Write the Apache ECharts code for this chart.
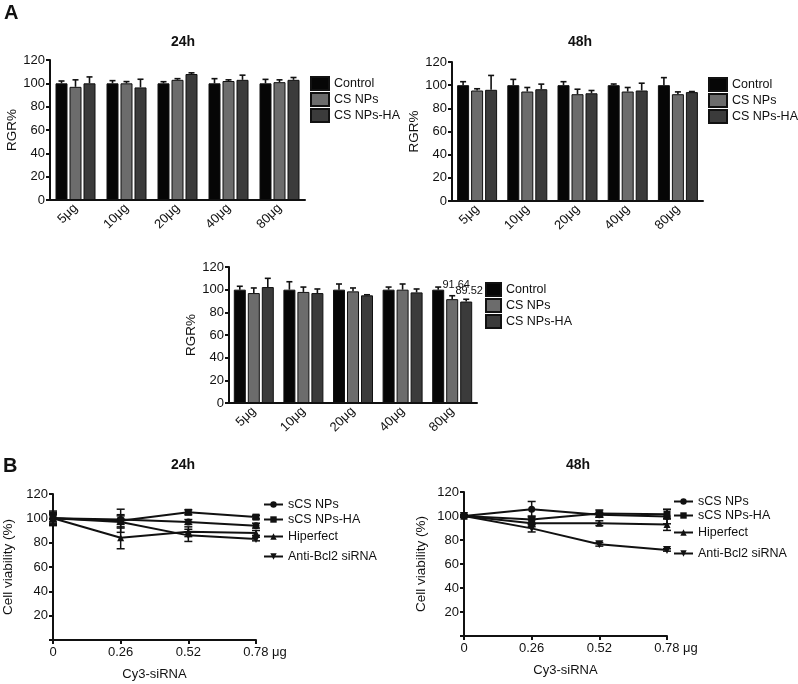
<!DOCTYPE html>
<html>
<head>
<meta charset="utf-8">
<script src="https://cdn.jsdelivr.net/npm/echarts@6/dist/echarts.min.js"></script>
<style>
body{margin:0;background:#fff}
#main{width:798px;height:684px}
</style>
</head>
<body>
<div id="main"></div>
<script>
var FONT = 'Liberation Sans, Arial, sans-serif';

// bar panels (A)
var doses = ['5μg', '10μg', '20μg', '40μg', '80μg'];
var barNames = ['Control', 'CS NPs', 'CS NPs-HA'];
var barColors = ['#060606', '#6c6c6c', '#3b3b3b'];

var a24Control = [100, 100, 100, 100, 100];
var a24CSNPs = [97, 100, 103, 102, 101];
var a24HA = [100, 96.5, 108, 103, 103];
var a24ControlErr = [2, 2.3, 1.4, 4, 3.4];
var a24CSNPsErr = [6, 1.5, 1, 1, 2];
var a24HAErr = [5.5, 7, 1, 4, 2];

var a48Control = [100, 100, 100, 100, 100];
var a48CSNPs = [95.4, 94.5, 92.2, 94.5, 92.2];
var a48HA = [96, 96.5, 93, 95.4, 94];
var a48ControlErr = [3, 5, 3, 1, 6.5];
var a48CSNPsErr = [1.5, 3.5, 4.3, 3.5, 2];
var a48HAErr = [12.4, 4.4, 2.4, 6.3, 0.5];

var a3Control = [100, 100, 100, 100, 100];
var a3CSNPs = [97, 98, 98.5, 100, 91.64];
var a3HA = [102.3, 97, 95, 97.6, 89.52];
var a3ControlErr = [3, 7, 5, 2.3, 2.3];
var a3CSNPsErr = [4.5, 4.3, 3, 5, 3];
var a3HAErr = [7.7, 3.6, 0.5, 3, 2];

// line panels (B)
var doseX = [0, 0.26, 0.52, 0.78];
var lineNames = ['sCS NPs', 'sCS NPs-HA', 'Hiperfect', 'Anti-Bcl2 siRNA'];
var lineSymbols = ['circle', 'rect', 'triangle', 'path://M0,0L10,0L5,9Z'];

var b24sCS = [100, 99, 97, 94];
var b24HA = [100, 98, 105, 101];
var b24Hip = [100, 84, 89, 88];
var b24Bcl2 = [100, 97, 86, 83];
var b24sCSErr = [6, 4, 2, 2];
var b24HAErr = [4, 9.5, 2, 1.5];
var b24HipErr = [5, 9, 4, 2];
var b24Bcl2Err = [3, 5, 5, 1.5];

var b48sCS = [100, 105.6, 101, 99.5];
var b48HA = [100, 97, 102, 101.5];
var b48Hip = [100, 94, 94, 93];
var b48Bcl2 = [100, 89.7, 76.4, 71.7];
var b48sCSErr = [1, 6.5, 2, 6];
var b48HAErr = [1, 3, 3, 4];
var b48HipErr = [1, 3, 2, 5];
var b48Bcl2Err = [1, 3, 1.5, 1];

var axisLineStyle = {color: '#111', width: 2};

function barAxisX(grid) {
    return {
        type: 'category', gridIndex: grid, data: doses,
        axisLine: {lineStyle: axisLineStyle},
        axisTick: {alignWithLabel: true, length: 4, lineStyle: axisLineStyle},
        axisLabel: {rotate: 45, interval: 0, margin: 6, fontSize: 13, color: '#111', fontFamily: FONT}
    };
}

function valueAxisY(grid, name, gap, hideZero) {
    return {
        type: 'value', gridIndex: grid, min: 0, max: 120, interval: 20,
        name: name, nameLocation: 'middle', nameGap: gap,
        nameTextStyle: {fontSize: 13.5, color: '#111', fontFamily: FONT},
        axisLine: {show: true, lineStyle: axisLineStyle},
        axisTick: {show: true, length: 4, lineStyle: axisLineStyle},
        splitLine: {show: false},
        axisLabel: {
            margin: 5, fontSize: 13, color: '#111', fontFamily: FONT,
            formatter: function (v) { return (hideZero && v === 0) ? '' : v; }
        }
    };
}

function lineAxisX(grid) {
    return {
        type: 'value', gridIndex: grid, min: 0, max: 0.78, interval: 0.26,
        name: 'Cy3-siRNA', nameLocation: 'middle', nameGap: 28,
        nameTextStyle: {fontSize: 13, color: '#111', fontFamily: FONT},
        axisLine: {lineStyle: axisLineStyle},
        axisTick: {length: 4, lineStyle: axisLineStyle},
        splitLine: {show: false},
        axisLabel: {
            margin: 6, fontSize: 13, color: '#111', fontFamily: FONT,
            formatter: function (v) {
                if (Math.abs(v - 0.78) < 1e-6) return '{p|}0.78 μg';
                return v;
            },
            rich: {p: {width: 18}}
        }
    };
}

function barErrRender(offset) {
    return function (params, api) {
        var base = api.coord([api.value(0), api.value(1)]);
        var top = api.coord([api.value(0), api.value(1) + api.value(2)]);
        var x = base[0] + offset;
        var st = {stroke: '#111', lineWidth: 1.6};
        return {type: 'group', children: [
            {type: 'line', shape: {x1: x, y1: base[1], x2: x, y2: top[1]}, style: st},
            {type: 'line', shape: {x1: x - 3, y1: top[1], x2: x + 3, y2: top[1]}, style: st}
        ]};
    };
}

function lineErrRender(params, api) {
    var lo = api.coord([api.value(0), api.value(1) - api.value(2)]);
    var hi = api.coord([api.value(0), api.value(1) + api.value(2)]);
    var st = {stroke: '#111', lineWidth: 1.5};
    return {type: 'group', children: [
        {type: 'line', shape: {x1: lo[0], y1: lo[1], x2: hi[0], y2: hi[1]}, style: st},
        {type: 'line', shape: {x1: lo[0] - 4, y1: lo[1], x2: lo[0] + 4, y2: lo[1]}, style: st},
        {type: 'line', shape: {x1: hi[0] - 4, y1: hi[1], x2: hi[0] + 4, y2: hi[1]}, style: st}
    ]};
}

var series = [];

function addBarPanel(grid, sets, errs, labelIdx) {
    var bw = 12, gap = 2;
    for (var i = 0; i < 3; i++) {
        var vals = sets[i];
        var data = vals.map(function (v, k) {
            if (labelIdx && i > 0 && k === labelIdx) {
                return {value: v, label: {
                    show: true, position: 'top', distance: i === 1 ? 9 : 5, offset: [i === 1 ? 4 : 3, 0],
                    fontSize: 11, color: '#111', fontFamily: FONT
                }};
            }
            return v;
        });
        series.push({
            name: barNames[i], type: 'bar', xAxisIndex: grid, yAxisIndex: grid,
            barWidth: bw, barGap: (gap / bw * 100) + '%',
            itemStyle: {color: barColors[i], borderColor: '#111', borderWidth: 1},
            data: data
        });
        series.push({
            name: 'err', type: 'custom', xAxisIndex: grid, yAxisIndex: grid, z: 3,
            renderItem: barErrRender((i - 1) * (bw + gap)),
            encode: {x: 0, y: 1},
            data: vals.map(function (v, k) { return [k, v, errs[i][k]]; })
        });
    }
}

function addLinePanel(grid, sets, errs) {
    for (var i = 0; i < 4; i++) {
        var vals = sets[i];
        series.push({
            name: lineNames[i], type: 'line', xAxisIndex: grid, yAxisIndex: grid, z: 4,
            symbol: lineSymbols[i], symbolSize: i === 3 ? 8 : 7,
            lineStyle: {color: '#111', width: 2},
            itemStyle: {color: '#111'},
            data: doseX.map(function (x, k) { return [x, vals[k]]; })
        });
        series.push({
            name: 'err', type: 'custom', xAxisIndex: grid, yAxisIndex: grid, z: 3,
            renderItem: lineErrRender,
            encode: {x: 0, y: 1},
            data: doseX.map(function (x, k) { return [x, vals[k], errs[i][k]]; })
        });
    }
}

addBarPanel(0, [a24Control, a24CSNPs, a24HA], [a24ControlErr, a24CSNPsErr, a24HAErr]);
addBarPanel(1, [a48Control, a48CSNPs, a48HA], [a48ControlErr, a48CSNPsErr, a48HAErr]);
addBarPanel(2, [a3Control, a3CSNPs, a3HA], [a3ControlErr, a3CSNPsErr, a3HAErr], 4);
addLinePanel(3, [b24sCS, b24HA, b24Hip, b24Bcl2], [b24sCSErr, b24HAErr, b24HipErr, b24Bcl2Err]);
addLinePanel(4, [b48sCS, b48HA, b48Hip, b48Bcl2], [b48sCSErr, b48HAErr, b48HipErr, b48Bcl2Err]);

function barLegend(left, top, w) {
    return {
        orient: 'vertical', left: left, top: top, padding: 0, itemGap: 1,
        itemWidth: w, itemHeight: 13, icon: 'rect', selectedMode: false,
        data: barNames,
        textStyle: {fontSize: 12.5, color: '#111', fontFamily: FONT}
    };
}

function lineLegend(name, left, top) {
    return {
        left: left, top: top, padding: 0, itemWidth: 19, itemHeight: 8,
        selectedMode: false, data: [name],
        textStyle: {fontSize: 12.5, color: '#111', fontFamily: FONT}
    };
}

function label(text, left, top, size) {
    return {
        text: text, left: left, top: top, padding: 0,
        textStyle: {fontSize: size, fontWeight: 'bold', color: '#111', fontFamily: FONT}
    };
}

var myChart = echarts.init(document.getElementById('main'));
myChart.setOption({
    animation: false,
    backgroundColor: '#fff',
    title: [
        label('A', 4, 3, 20),
        label('24h', 171, 35, 14),
        label('48h', 568, 35, 14),
        label('B', 3, 456, 20),
        label('24h', 171, 458, 14),
        label('48h', 566, 458, 14)
    ],
    legend: [
        barLegend(310, 76, 18),
        barLegend(708, 77, 18),
        barLegend(485, 282, 15),
        lineLegend(lineNames[0], 263, 498),
        lineLegend(lineNames[1], 263, 513),
        lineLegend(lineNames[2], 263, 530),
        lineLegend(lineNames[3], 263, 550),
        lineLegend(lineNames[0], 673, 495),
        lineLegend(lineNames[1], 673, 509),
        lineLegend(lineNames[2], 673, 526),
        lineLegend(lineNames[3], 673, 547)
    ],
    grid: [
        {left: 50, top: 60, width: 255, height: 140},
        {left: 452, top: 62, width: 251, height: 139},
        {left: 229, top: 267, width: 248, height: 136},
        {left: 50, top: 494, width: 206, height: 146},
        {left: 464, top: 492, width: 203, height: 144}
    ],
    xAxis: [barAxisX(0), barAxisX(1), barAxisX(2), lineAxisX(3), lineAxisX(4)],
    yAxis: [
        valueAxisY(0, 'RGR%', 28, false),
        valueAxisY(1, 'RGR%', 27, false),
        valueAxisY(2, 'RGR%', 31, false),
        valueAxisY(3, 'Cell viability (%)', 38, true),
        valueAxisY(4, 'Cell viability (%)', 36, true)
    ],
    series: series
});
</script>
</body>
</html>
